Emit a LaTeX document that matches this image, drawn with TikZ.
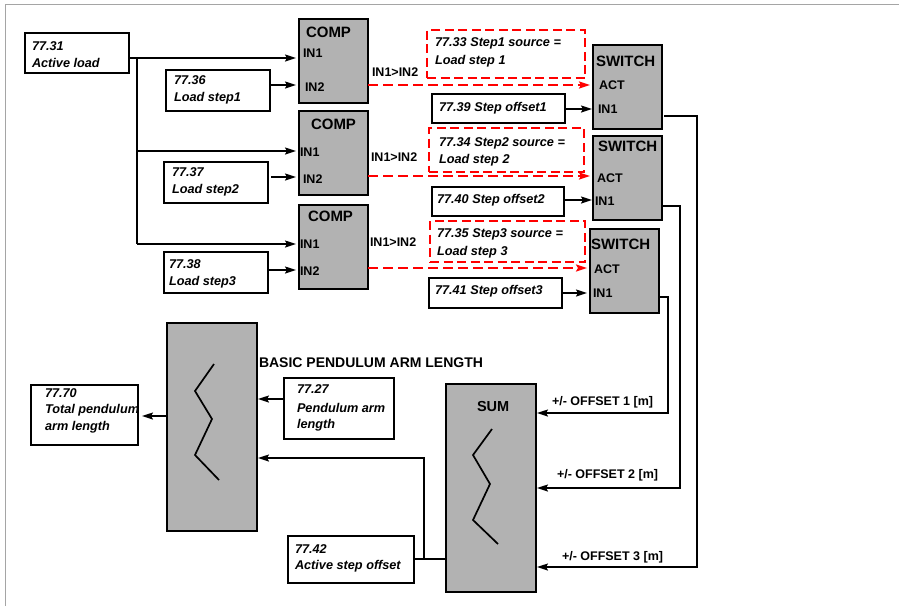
\documentclass[tikz,border=0pt]{standalone}
\usepackage{fontspec}
\setmainfont{Liberation Sans}
\usetikzlibrary{arrows.meta}
\definecolor{blockgray}{RGB}{178,178,178}
\definecolor{framegray}{RGB}{165,165,165}
\tikzset{
 every node/.style={inner sep=0pt, outer sep=0pt},
 pbox/.style={draw=black, line width=2pt, fill=white, rectangle},
 gbox/.style={draw=black, line width=2pt, fill=blockgray, rectangle},
 rbox/.style={draw=red, line width=1.9pt, dash pattern=on 9pt off 4.5pt, rectangle},
 lab/.style={font=\fontsize{12.7}{15}\selectfont\bfseries\itshape},
 plab/.style={font=\fontsize{12.5}{15}\selectfont\bfseries},
 big/.style={font=\fontsize{15}{18}\selectfont\bfseries},
 sumlab/.style={font=\fontsize{14.5}{17}\selectfont\bfseries},
 titlelab/.style={font=\fontsize{14}{17}\selectfont\bfseries},
 wire/.style={line width=1.7pt},
 arr/.style={wire, -{Stealth[length=11pt,width=7pt,inset=2pt]}},
 rarr/.style={draw=red, line width=1.9pt, dash pattern=on 10pt off 5pt, -{Stealth[length=11pt,width=7pt,inset=2pt,red]}},
}
\newcommand\mkbox[6]{\node[#2, minimum width={(#5-#3)*1pt}, minimum height={(#6-#4)*1pt}] (#1) at ({(#3+#5)/2},{(#4+#6)/2}) {};}
\newcommand\tx[4]{\node[#1, anchor=base west] (#2) at (#3) {#4};}
\begin{document}
\begin{tikzpicture}[x=1pt,y=-1pt]
\useasboundingbox (0,0) rectangle (899,606);
\draw[framegray, line width=1pt] (5,606) -- (5,4.5) -- (899,4.5);

% input boxes
\mkbox{al}{pbox}{25}{33}{129}{73}
\tx{lab}{al1}{32,50}{77.31}
\tx{lab}{al2}{32,67}{Active load}
\mkbox{ls1}{pbox}{166}{70}{270}{111}
\tx{lab}{ls1a}{174,84}{77.36}
\tx{lab}{ls1b}{174,101}{Load step1}
\mkbox{ls2}{pbox}{164}{162}{268}{203}
\tx{lab}{ls2a}{172,176}{77.37}
\tx{lab}{ls2b}{172,193}{Load step2}
\mkbox{ls3}{pbox}{164}{252}{268}{293}
\tx{lab}{ls3a}{169,268}{77.38}
\tx{lab}{ls3b}{169,285}{Load step3}

% COMP blocks
\mkbox{c1}{gbox}{299}{19}{368}{103}
\tx{big}{c1t}{306,37}{COMP}
\tx{plab}{c1a}{303,57}{IN1}
\tx{plab}{c1b}{305,91}{IN2}
\mkbox{c2}{gbox}{299}{111}{368}{195}
\tx{big}{c2t}{311,129}{COMP}
\tx{plab}{c2a}{300,156}{IN1}
\tx{plab}{c2b}{303,183}{IN2}
\mkbox{c3}{gbox}{299}{205}{368}{289}
\tx{big}{c3t}{308,221}{COMP}
\tx{plab}{c3a}{300,248}{IN1}
\tx{plab}{c3b}{300,275}{IN2}
\tx{plab}{g1}{372,76}{IN1>IN2}
\tx{plab}{g2}{371,161}{IN1>IN2}
\tx{plab}{g3}{370,246}{IN1>IN2}

% red source boxes
\mkbox{r1}{rbox}{427}{30}{585}{78}
\tx{lab}{r1a}{435,46}{77.33 Step1 source =}
\tx{lab}{r1b}{435,64}{Load step 1}
\mkbox{r2}{rbox}{429}{128}{584}{172}
\tx{lab}{r2a}{439,146}{77.34 Step2 source =}
\tx{lab}{r2b}{439,163}{Load step 2}
\mkbox{r3}{rbox}{430}{221}{585}{262}
\tx{lab}{r3a}{437,237}{77.35 Step3 source =}
\tx{lab}{r3b}{437,255}{Load step 3}

% step offset boxes
\mkbox{so1}{pbox}{432}{94}{565}{123}
\tx{lab}{so1t}{439,111}{77.39 Step offset1}
\mkbox{so2}{pbox}{432}{187}{564}{216}
\tx{lab}{so2t}{437,203}{77.40 Step offset2}
\mkbox{so3}{pbox}{429}{278}{562}{308}
\tx{lab}{so3t}{435,294}{77.41 Step offset3}

% SWITCH blocks
\mkbox{s1}{gbox}{593}{45}{662}{129}
\tx{big}{s1t}{596,66}{SWITCH}
\tx{plab}{s1a}{599,89}{ACT}
\tx{plab}{s1b}{598,113}{IN1}
\mkbox{s2}{gbox}{593}{136}{662}{220}
\tx{big}{s2t}{598,151}{SWITCH}
\tx{plab}{s2a}{597,182}{ACT}
\tx{plab}{s2b}{595,205}{IN1}
\mkbox{s3}{gbox}{590}{229}{659}{313}
\tx{big}{s3t}{591,249}{SWITCH}
\tx{plab}{s3a}{594,273}{ACT}
\tx{plab}{s3b}{593,297}{IN1}

% SUM block
\mkbox{sum}{gbox}{446}{384}{536}{592}
\tx{sumlab}{sumt}{477,411}{SUM}
\draw[wire] (492,429) -- (473,455) -- (490,484) -- (473,520) -- (498,544);

% pendulum block
\mkbox{pend}{gbox}{167}{323}{257}{531}
\draw[wire] (214,364) -- (195,391) -- (212,419) -- (195,455) -- (219,480);
\tx{titlelab}{basic}{259,367}{BASIC PENDULUM ARM LENGTH}

\mkbox{b770}{pbox}{31}{385}{138}{445}
\tx{lab}{b770a}{45,397}{77.70}
\tx{lab}{b770b}{45,413}{Total pendulum}
\tx{lab}{b770c}{45,430}{arm length}
\mkbox{b727}{pbox}{284}{378}{394}{439}
\tx{lab}{b727a}{297,393}{77.27}
\tx{lab}{b727b}{297,412}{Pendulum arm}
\tx{lab}{b727c}{297,428}{length}
\mkbox{b742}{pbox}{288}{536}{414}{583}
\tx{lab}{b742a}{295,553}{77.42}
\tx{lab}{b742b}{295,569}{Active step offset}

% offset labels
\tx{plab}{off1}{552,405}{+/- OFFSET 1 [m]}
\tx{plab}{off2}{557,478}{+/- OFFSET 2 [m]}
\tx{plab}{off3}{562,560}{+/- OFFSET 3 [m]}

% coordinates
\coordinate (j1) at (137,58);
\coordinate (j2) at (137,151);
\coordinate (j3) at (137,244);
\coordinate (c1in2) at (299,85);
\coordinate (c2in2) at (299,177);
\coordinate (c3in2) at (299,270);
\coordinate (r1y) at (368,85);
\coordinate (r2y) at (368,176);
\coordinate (r3y) at (368,268);
\coordinate (s1in1) at (593,109);
\coordinate (s2in1) at (593,200);
\coordinate (s3in1) at (590,293);
\coordinate (o1a) at (697,116);
\coordinate (o1b) at (697,567);
\coordinate (o2a) at (680,206);
\coordinate (o2b) at (680,488);
\coordinate (o3a) at (668,297);
\coordinate (o3b) at (668,413);
\coordinate (p1) at (167,416);
\coordinate (p2) at (284,399);
\coordinate (j4) at (424,559);
\coordinate (j5) at (424,458);

% connectors
\draw[wire] (al.east |- j1) -- (j1) -- (j3);
\draw[arr, shorten >=3pt] (j1) -- (c1.west |- j1);
\draw[arr, shorten >=3pt] (j2) -- (c2.west |- j2);
\draw[arr, shorten >=3pt] (j3) -- (c3.west |- j3);
\draw[arr, shorten >=3pt] (ls1.east |- c1in2) -- (c1in2);
\draw[arr, shorten >=3pt, shorten <=3pt] (ls2.east |- c2in2) -- (c2in2);
\draw[arr, shorten >=3pt] (ls3.east |- c3in2) -- (c3in2);
\draw[rarr, shorten >=3pt] (r1y) -- (s1.west |- r1y);
\draw[rarr, shorten >=3pt] (r2y) -- (s2.west |- r2y);
\draw[rarr, shorten >=3pt] (r3y) -- (s3.west |- r3y);
\draw[arr, shorten >=1pt] (so1.east |- s1in1) -- (s1in1);
\draw[arr, shorten >=1pt] (so2.east |- s2in1) -- (s2in1);
\draw[arr, shorten >=3pt] (so3.east |- s3in1) -- (s3in1);
\draw[arr, shorten >=1pt] ([xshift=2pt]s1.east |- o1a) -- (o1a) -- (o1b) -- (sum.east |- o1b);
\draw[arr, shorten >=1pt] (s2.east |- o2a) -- (o2a) -- (o2b) -- (sum.east |- o2b);
\draw[arr, shorten >=1pt] (s3.east |- o3a) -- (o3a) -- (o3b) -- (sum.east |- o3b);
\draw[arr, shorten >=4pt] (p1) -- (b770.east |- p1);
\draw[arr, shorten >=1pt] (p2) -- (pend.east |- p2);
\draw[wire] (b742.east |- j4) -- (sum.west |- j4);
\draw[arr, shorten >=1pt] (j4) -- (j5) -- (pend.east |- j5);
\end{tikzpicture}
\end{document}
